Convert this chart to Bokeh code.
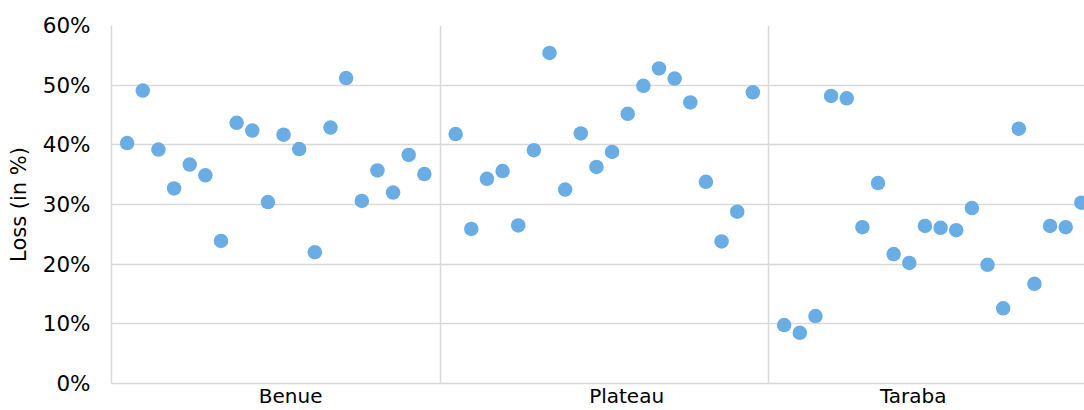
from bokeh.plotting import figure
from bokeh.models import ColumnDataSource, FixedTicker, PrintfTickFormatter, Range1d
from bokeh.embed import file_html
from bokeh.resources import INLINE

# ---- data ----
categories = ["Benue", "Plateau", "Taraba"]
benue = [40.3, 49.1, 39.2, 32.7, 36.7, 34.9, 23.9, 43.7, 42.4, 30.4,
         41.7, 39.3, 22.0, 42.9, 51.2, 30.6, 35.7, 32.0, 38.3, 35.1]
plateau = [41.8, 25.9, 34.3, 35.6, 26.5, 39.1, 55.4, 32.5, 41.9, 36.3,
           38.8, 45.2, 49.9, 52.8, 51.1, 47.1, 33.8, 23.8, 28.8, 48.8]
taraba = [9.8, 8.5, 11.3, 48.2, 47.8, 26.2, 33.6, 21.7, 20.2, 26.4,
          26.1, 25.7, 29.4, 19.9, 12.6, 42.7, 16.7, 26.4, 26.2, 30.3]
y_ticks = [0, 10, 20, 30, 40, 50, 60]

series = [benue, plateau, taraba]
slot = len(benue) + 1  # each category occupies n+1 slots

xs, ys = [], []
for ci, vals in enumerate(series):
    for i, v in enumerate(vals):
        xs.append(ci * slot + i + 1)
        ys.append(v)
src = ColumnDataSource(dict(x=xs, y=ys))

# category label positions (as placed in the reference)
label_pos = [11.45, 32.93, 51.25]
FONT = "DejaVu Sans"

p = figure(width=1084, height=410, output_backend="svg", toolbar_location=None,
           x_range=Range1d(0, 62.2), y_range=Range1d(0, 60),
           min_border_left=111, min_border_right=0, min_border_top=25, min_border_bottom=25)
p.title = None
p.outline_line_color = None
p.background_fill_color = "white"
p.border_fill_color = "white"

p.scatter("x", "y", source=src, size=14.5, fill_color="#6aade4", line_color=None)

# y axis
p.yaxis.ticker = FixedTicker(ticks=y_ticks)
p.yaxis.formatter = PrintfTickFormatter(format="%d%%")
p.yaxis.axis_label = "Loss (in %)"
p.yaxis.axis_label_text_font = FONT
p.yaxis.axis_label_text_font_size = "21px"
p.yaxis.axis_label_text_font_style = "normal"
p.yaxis.axis_label_text_color = "#000000"
p.yaxis.axis_label_standoff = 9
p.yaxis.major_label_text_font = FONT
p.yaxis.major_label_text_font_size = "21.5px"
p.yaxis.major_label_text_color = "#000000"
p.yaxis.major_label_standoff = 21
p.yaxis.major_tick_line_color = None
p.yaxis.minor_tick_line_color = None
p.yaxis.major_tick_out = 0
p.yaxis.axis_line_color = "#d9d9d9"
p.yaxis.axis_line_width = 1.5

# x axis (category labels)
p.xaxis.ticker = FixedTicker(ticks=label_pos)
p.xaxis.major_label_overrides = {pos: name for pos, name in zip(label_pos, categories)}
p.xaxis.major_label_text_font = FONT
p.xaxis.major_label_text_font_size = "20px"
p.xaxis.major_label_text_color = "#000000"
p.xaxis.major_label_standoff = 0
p.xaxis.major_tick_line_color = None
p.xaxis.minor_tick_line_color = None
p.xaxis.major_tick_out = 0
p.xaxis.major_tick_in = 0
p.xaxis.axis_line_color = "#d9d9d9"
p.xaxis.axis_line_width = 1.5

# grids
p.ygrid.ticker = FixedTicker(ticks=y_ticks)
p.ygrid.grid_line_color = "#d9d9d9"
p.ygrid.grid_line_width = 1.5
p.xgrid.ticker = FixedTicker(ticks=[slot * k for k in range(len(categories) + 1)])
p.xgrid.grid_line_color = "#d9d9d9"
p.xgrid.grid_line_width = 1.5

open("out.html", "w").write(file_html(p, INLINE))
